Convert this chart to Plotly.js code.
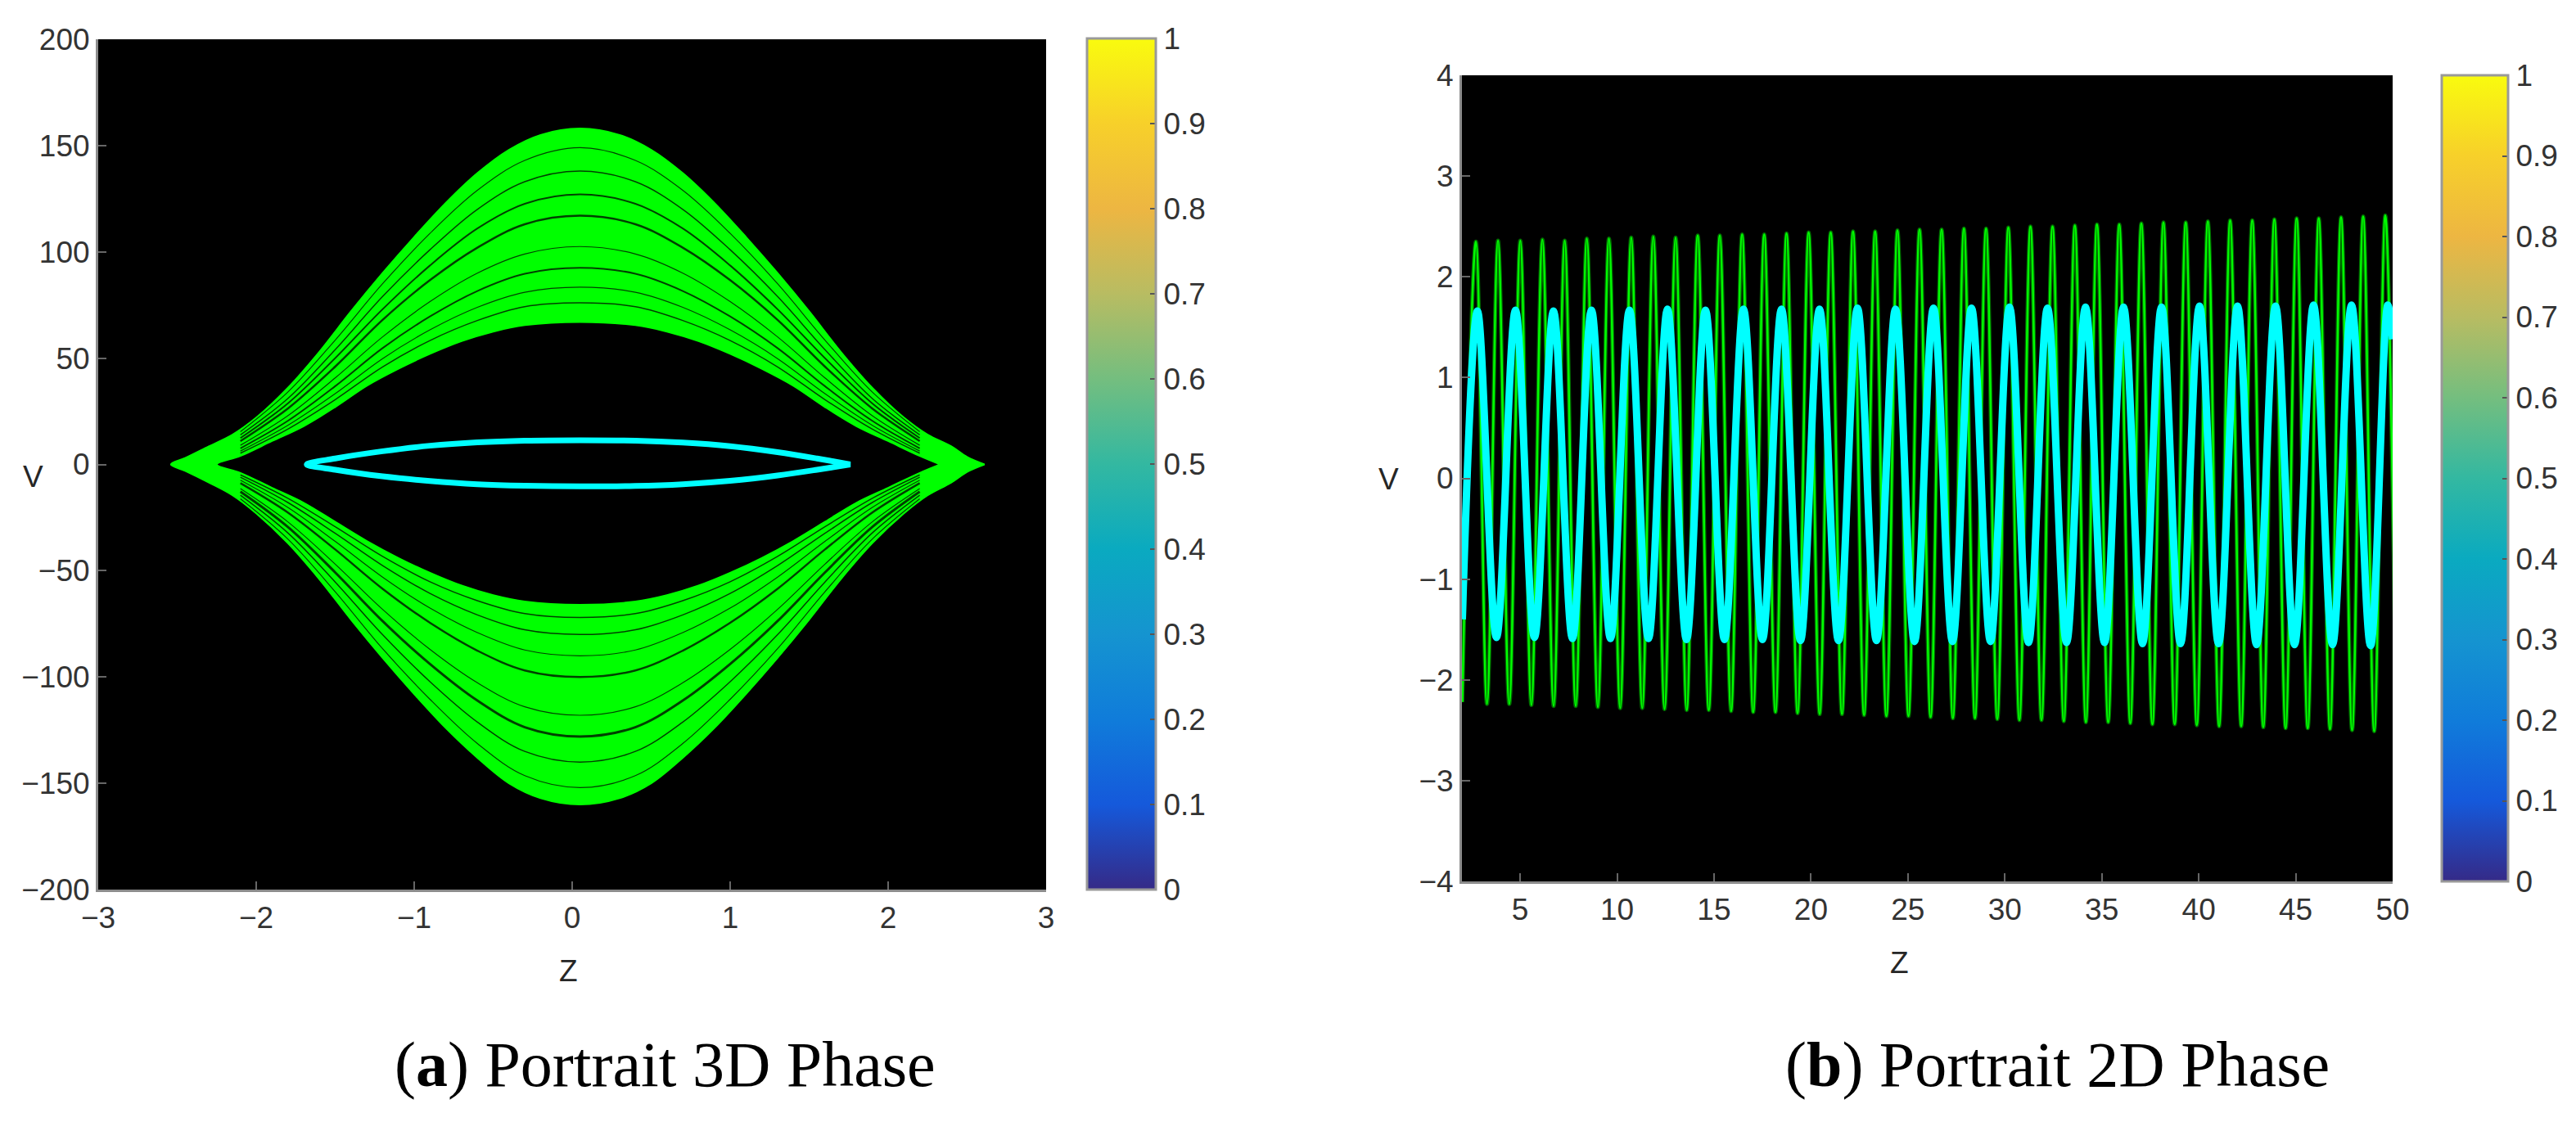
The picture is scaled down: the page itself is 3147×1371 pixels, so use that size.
<!DOCTYPE html>
<html><head><meta charset="utf-8">
<script src="https://cdn.plot.ly/plotly-3.0.1.min.js"></script>
<style>html,body{margin:0;padding:0;background:#fff}#chart{width:3147px;height:1371px}</style>
</head><body><div id="chart"></div>
<script>
// ---------- Panel (a): 3D phase portrait ----------
const zOuter = [-2.54,-2.45,-2.3,-2.15,-2.0,-1.8,-1.6,-1.4,-1.2,-1.0,-0.8,-0.6,-0.4,-0.2,0.05,0.3,0.5,0.7,0.9,1.1,1.3,1.5,1.7,1.9,2.1,2.25,2.4,2.5,2.61];
const vOuterUp = [0,3,8.5,14,22,36,53,72,90,107,123,137,148,155,158,155,148,137,123,107,90,72,53,36,22,14,8.5,3.5,0];
const vOuterLo = [0,-3,-8.5,-14.5,-23,-37,-54,-73,-91,-108,-124,-138,-150,-157,-160,-157,-150,-138,-124,-108,-91,-73,-54,-37,-23,-14.5,-8.5,-3.5,0];

const zInner = [-2.25,-2.1,-1.9,-1.7,-1.5,-1.3,-1.1,-0.9,-0.7,-0.5,-0.3,0.05,0.4,0.6,0.8,1.0,1.2,1.4,1.6,1.8,2.0,2.2,2.33];
const vInnerUp = [0,4,11,18,27,37,45,52,58,62.5,65.5,67,65.5,62.5,58,52,45,37,27,18,11,4,0];
const vInnerLo = [0,-4,-11,-18,-27,-36,-44,-51,-57,-61.5,-64.5,-66,-64.5,-61.5,-57,-51,-44,-36,-27,-18,-11,-4,0];

const zSep = [-2.1,-1.8,-1.5,-1.2,-0.9,-0.6,-0.3,0.05,0.4,0.7,1.0,1.3,1.6,1.9,2.2];
const upperGaps = [
  [15.4,34,58.5,85,108.7,129,143,149,143,129,108.7,85,58.5,34,15.4],
  [13.9,31,54,79,101,120,133,138,133,120,101,79,54,31,13.9],
  [12.4,28.7,50,73,93.6,111,122.6,127,122.6,111,93.6,73,50,28.7,12.4],
  [11,26.3,46,68,86.7,102,113,117,113,102,86.7,68,46,26.3,11],
  [9,22.9,40.7,60,76.6,90,99,102.5,99,90,76.6,60,40.7,22.9,9],
  [7.6,20.5,36.8,54.7,69.6,81.6,89.7,92.5,89.7,81.6,69.6,54.7,36.8,20.5,7.6],
  [6.3,18.4,33.3,49.8,63.3,73.9,81,83.4,81,73.9,63.3,49.8,33.3,18.4,6.3],
  [5.3,16.6,30.5,45.9,58.3,67.7,74.2,76,74.2,67.7,58.3,45.9,30.5,16.6,5.3]
];
const lowerGaps = [
  [-16.2,-35.1,-59.9,-86.7,-110.5,-131.3,-146.4,-152,-146.4,-131.3,-110.5,-86.7,-59.9,-35.1,-16.2],
  [-14.5,-32.2,-55.3,-80.1,-102.2,-121.2,-135,-140,-135,-121.2,-102.2,-80.1,-55.3,-32.2,-14.5],
  [-12.8,-29.4,-50.8,-73.7,-93.9,-111.1,-123.6,-128,-123.6,-111.1,-93.9,-73.7,-50.8,-29.4,-12.8],
  [-11.4,-27,-46.9,-68.2,-87,-102.7,-114,-118,-114,-102.7,-87,-68.2,-46.9,-27,-11.4],
  [-8.8,-22.6,-40,-58.5,-74.5,-87.6,-96.9,-100,-96.9,-87.6,-74.5,-58.5,-40,-22.6,-8.8],
  [-7.4,-20.2,-36.2,-53,-67.6,-79.1,-87.3,-90,-87.3,-79.1,-67.6,-53,-36.2,-20.2,-7.4],
  [-6,-17.9,-32.4,-47.6,-60.7,-70.8,-77.8,-80,-77.8,-70.8,-60.7,-47.6,-32.4,-17.9,-6],
  [-4.9,-15.9,-29.3,-43.3,-55.2,-64.1,-70.2,-72,-70.2,-64.1,-55.2,-43.3,-29.3,-15.9,-4.9]
];

const zCyan = [-1.68,-1.5,-1.2,-0.9,-0.6,-0.3,0.05,0.4,0.7,1.0,1.3,1.55,1.76];
const vCyanUp = [0,2.8,6.2,8.8,10.4,11.2,11.4,11.2,10.3,8.6,5.8,2.8,0];
const vCyanLo = [0,-2.5,-5.6,-7.8,-9.3,-10,-10.3,-10.1,-9.3,-7.7,-5.2,-2.5,0];

const xTicksA = [-3,-2,-1,0,1,2,3];
const yTicksA = [-200,-150,-100,-50,0,50,100,150,200];

// ---------- Panel (b): 2D phase portrait ----------
const greenPeakZ = [2.72,3.86,5.01,6.15,7.30,8.44,9.58,10.73,11.87,13.02,14.16,15.30,16.45,17.59,18.74,19.88,21.02,22.17,23.31,24.46,25.60,26.74,27.89,29.03,30.18,31.32,32.46,33.61,34.75,35.90,37.04,38.18,39.33,40.47,41.62,42.76,43.90,45.05,46.19,47.34,48.48,49.62];
const greenPeakV = [2.35,2.36,2.36,2.37,2.36,2.38,2.38,2.39,2.40,2.39,2.41,2.41,2.42,2.42,2.43,2.44,2.44,2.45,2.45,2.46,2.47,2.47,2.48,2.48,2.49,2.50,2.50,2.51,2.52,2.52,2.53,2.54,2.54,2.55,2.56,2.56,2.57,2.58,2.58,2.59,2.60,2.61];
const greenTroughZ = [2.02,3.29,4.44,5.58,6.73,7.87,9.01,10.16,11.30,12.45,13.59,14.73,15.88,17.02,18.17,19.31,20.45,21.60,22.74,23.89,25.03,26.17,27.32,28.46,29.61,30.75,31.89,33.04,34.18,35.33,36.47,37.61,38.76,39.90,41.05,42.19,43.33,44.48,45.62,46.77,47.91,49.05,50.19];
const greenTroughV = [-2.22,-2.24,-2.24,-2.25,-2.26,-2.26,-2.27,-2.28,-2.28,-2.29,-2.30,-2.30,-2.31,-2.32,-2.32,-2.33,-2.34,-2.34,-2.35,-2.36,-2.36,-2.37,-2.38,-2.38,-2.39,-2.40,-2.40,-2.41,-2.42,-2.42,-2.43,-2.44,-2.44,-2.45,-2.46,-2.46,-2.47,-2.48,-2.48,-2.49,-2.50,-2.51,-2.52];

const cyanPeakZ = [2.80,4.76,6.72,8.68,10.64,12.60,14.56,16.52,18.48,20.44,22.40,24.36,26.32,28.28,30.24,32.20,34.16,36.12,38.08,40.04,42.00,43.96,45.92,47.88,49.75];
const cyanPeakV = [1.66,1.67,1.66,1.67,1.67,1.68,1.67,1.68,1.68,1.68,1.69,1.68,1.69,1.69,1.70,1.69,1.70,1.70,1.70,1.71,1.71,1.71,1.72,1.72,1.72];
const cyanTroughZ = [2.02,3.78,5.74,7.70,9.66,11.62,13.58,15.54,17.50,19.46,21.42,23.38,25.34,27.30,29.26,31.22,33.18,35.14,37.10,39.06,41.02,42.98,44.94,46.90,48.86];
const cyanTroughV = [-1.40,-1.58,-1.58,-1.59,-1.59,-1.59,-1.60,-1.60,-1.60,-1.61,-1.61,-1.61,-1.62,-1.62,-1.62,-1.63,-1.63,-1.63,-1.64,-1.64,-1.64,-1.65,-1.65,-1.65,-1.66];
const cyanEnd = {z: 50, v: 1.38};

const xTicksB = [5,10,15,20,25,30,35,40,45,50];
const yTicksB = [-4,-3,-2,-1,0,1,2,3,4];

// ---------- Colour bar ----------
const cbTicks = [0,0.1,0.2,0.3,0.4,0.5,0.6,0.7,0.8,0.9,1];
const cbLabels = ['0','0.1','0.2','0.3','0.4','0.5','0.6','0.7','0.8','0.9','1'];
const parula = [[0,'#352A87'],[0.1,'#1559DB'],[0.2,'#107CDA'],[0.3,'#1594D0'],[0.4,'#0AAAC0'],[0.5,'#33B8A1'],[0.6,'#74BE7F'],[0.7,'#B8BC62'],[0.8,'#EDB642'],[0.9,'#F7D02A'],[1,'#F9FB0E']];

// ---------- helpers (build sequences from the arrays) ----------
function rev(a){ return a.slice().reverse(); }
function merge(z1, v1, z2, v2){
  const pts = [];
  z1.forEach((z,i)=>pts.push([z,v1[i]]));
  z2.forEach((z,i)=>pts.push([z,v2[i]]));
  pts.sort((a,b)=>a[0]-b[0]);
  return {x: pts.map(p=>p[0]), y: pts.map(p=>p[1])};
}

const GREEN = '#00FF00', CYAN = '#00FFFF';
const traces = [];

// outer orbit filled green
traces.push({type:'scatter', mode:'lines', xaxis:'x', yaxis:'y',
  x: zOuter.concat(rev(zOuter)), y: vOuterUp.concat(rev(vOuterLo)),
  fill:'toself', fillcolor:GREEN, line:{color:GREEN, width:2, shape:'spline'}, hoverinfo:'skip'});
// dark gaps between orbits
const upW = [1.2,1.5,2,2.5,1.2,2,1.2,1.5];
const loW = [1.2,1.5,3,1.2,2.5,1.2,1.5,1.5];
upperGaps.forEach((g,i)=>traces.push({type:'scatter', mode:'lines', xaxis:'x', yaxis:'y',
  x: zSep, y: g, line:{color:'rgba(0,0,0,0.75)', width:upW[i], shape:'spline'}, hoverinfo:'skip'}));
lowerGaps.forEach((g,i)=>traces.push({type:'scatter', mode:'lines', xaxis:'x', yaxis:'y',
  x: zSep, y: g, line:{color:'rgba(0,0,0,0.75)', width:loW[i], shape:'spline'}, hoverinfo:'skip'}));
// inner orbit (black interior)
traces.push({type:'scatter', mode:'lines', xaxis:'x', yaxis:'y',
  x: zInner.concat(rev(zInner)), y: vInnerUp.concat(rev(vInnerLo)),
  fill:'toself', fillcolor:'#000000', line:{color:GREEN, width:2, shape:'spline'}, hoverinfo:'skip'});
// cyan loop
traces.push({type:'scatter', mode:'lines', xaxis:'x', yaxis:'y',
  x: zCyan.concat(rev(zCyan)), y: vCyanUp.concat(rev(vCyanLo)),
  line:{color:CYAN, width:7, shape:'spline'}, hoverinfo:'skip'});

// panel b
const g = merge(greenPeakZ, greenPeakV, greenTroughZ, greenTroughV);
traces.push({type:'scatter', mode:'lines', xaxis:'x2', yaxis:'y2', x:g.x, y:g.y,
  line:{color:'rgba(0,150,0,0.7)', width:5, shape:'spline', smoothing:1}, hoverinfo:'skip'});
traces.push({type:'scatter', mode:'lines', xaxis:'x2', yaxis:'y2', x:g.x, y:g.y,
  line:{color:GREEN, width:2.5, shape:'spline', smoothing:1}, hoverinfo:'skip'});
const c = merge(cyanPeakZ, cyanPeakV, cyanTroughZ.concat([cyanEnd.z]), cyanTroughV.concat([cyanEnd.v]));
traces.push({type:'scatter', mode:'lines', xaxis:'x2', yaxis:'y2', x:c.x, y:c.y,
  line:{color:CYAN, width:9, shape:'spline', smoothing:1}, hoverinfo:'skip'});

const tickFont = {family:'Liberation Sans, Arial, sans-serif', size:37, color:'#333333'};
function cbar(x, y, len, thick){
  return {x:x, xanchor:'left', y:y, yanchor:'bottom', len:len, lenmode:'pixels',
    thickness:thick, thicknessmode:'pixels', xpad:0, ypad:0,
    outlinecolor:'#999999', outlinewidth:3, borderwidth:0,
    ticks:'inside', ticklen:8, tickwidth:2, tickcolor:'#555555',
    tickmode:'array', tickvals:cbTicks, ticktext:cbLabels, tickfont:tickFont};
}
traces.push({type:'scatter', mode:'markers', xaxis:'x', yaxis:'y', x:[-10], y:[0],
  marker:{color:[0], cmin:0, cmax:1, colorscale:parula, showscale:true, size:1,
    colorbar:cbar(1328/3147, 1-1087/1371, 1040, 84)}, hoverinfo:'skip', showlegend:false});
traces.push({type:'scatter', mode:'markers', xaxis:'x2', yaxis:'y2', x:[-10], y:[0],
  marker:{color:[0], cmin:0, cmax:1, colorscale:parula, showscale:true, size:1,
    colorbar:cbar(2983/3147, 1-1077/1371, 985, 81)}, hoverinfo:'skip', showlegend:false});

function axis(extra){
  return Object.assign({showgrid:false, zeroline:false, showline:true, linecolor:'#8c8c8c', linewidth:3,
    ticks:'inside', ticklen:10, tickwidth:2, tickcolor:'#666666', tickmode:'array',
    tickfont:tickFont, fixedrange:true}, extra);
}

const axTitle = {family:'Liberation Sans, Arial, sans-serif', size:37, color:'#262626'};
const capFont = {family:'Liberation Serif, Times New Roman, serif', size:78, color:'#000000'};
function ann(text, px, py, font){
  return {text:text, x:px/3147, y:1-py/1371, xref:'paper', yref:'paper', showarrow:false,
    xanchor:'center', yanchor:'middle', font:font};
}

const layout = {
  width:3147, height:1371, margin:{l:0,r:0,t:0,b:0},
  paper_bgcolor:'#ffffff', plot_bgcolor:'#000000', showlegend:false,
  xaxis: axis({domain:[120/3147, 1278/3147], range:[-3,3], tickvals:xTicksA, anchor:'y'}),
  yaxis: axis({domain:[1-1087/1371, 1-48/1371], range:[-200,200], tickvals:yTicksA, anchor:'x'}),
  xaxis2: axis({domain:[1786/3147, 2923/3147], range:[2,50], tickvals:xTicksB, anchor:'y2'}),
  yaxis2: axis({domain:[1-1077/1371, 1-92/1371], range:[-4,4], tickvals:yTicksB, anchor:'x2'}),
  annotations:[
    ann('V', 40, 582, axTitle),
    ann('Z', 694, 1186, axTitle),
    ann('V', 1697, 585, axTitle),
    ann('Z', 2320, 1176, axTitle),
    ann('(<b>a</b>) Portrait 3D Phase', 812, 1300, capFont),
    ann('(<b>b</b>) Portrait 2D Phase', 2513, 1300, capFont)
  ]
};

Plotly.newPlot('chart', traces, layout, {staticPlot:true, displayModeBar:false});
</script></body></html>
